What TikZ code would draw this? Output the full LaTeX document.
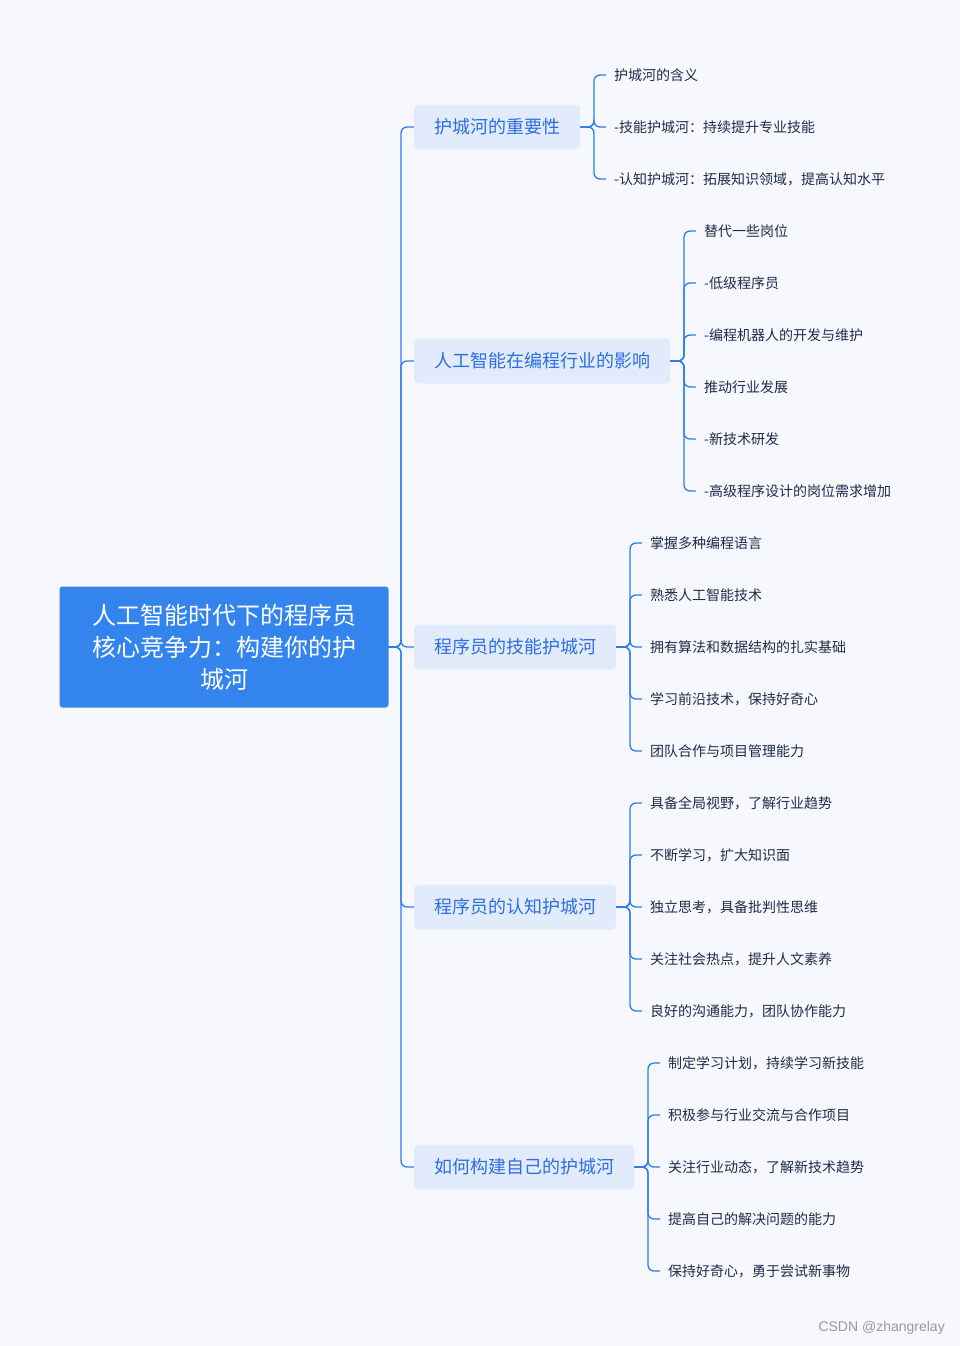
\documentclass[tikz,border=0pt]{standalone}
\usepackage{fontspec}
\newfontfamily\cjk{Noto Sans CJK SC}
\definecolor{bg}{HTML}{F7F8FD}
\definecolor{rootc}{HTML}{3484EE}
\definecolor{brc}{HTML}{E2EBFB}
\definecolor{brt}{HTML}{2C6FE0}
\definecolor{lnc}{HTML}{2F7CEB}
\definecolor{lft}{HTML}{1E2B4A}
\tikzset{
 rootbox/.style={fill=rootc,rounded corners=3,text=white,font=\cjk\fontsize{24}{32}\selectfont,align=center,minimum width=329,minimum height=121},
 brbox/.style={fill=brc,rounded corners=4,text=brt,font=\cjk\fontsize{18}{22}\selectfont,minimum height=45,inner xsep=20,anchor=west},
 leaf/.style={text=lft,font=\cjk\fontsize{14}{18}\selectfont,inner sep=0,anchor=west},
 conn/.style={draw=lnc,line width=1.3,rounded corners=6}
}
\begin{document}
\begin{tikzpicture}[x=1pt,y=-1pt]
\fill[bg] (0,0) rectangle (960,1346);
\node[rootbox] (root) at (224,647) {人工智能时代下的程序员\\核心竞争力：构建你的护\\城河};
\node[brbox] (b1) at (414,127) {护城河的重要性};
\node[brbox] (b2) at (414,361) {人工智能在编程行业的影响};
\node[brbox] (b3) at (414,647) {程序员的技能护城河};
\node[brbox] (b4) at (414,907) {程序员的认知护城河};
\node[brbox] (b5) at (414,1167) {如何构建自己的护城河};
\foreach \b in {b1,b2,b3,b4,b5}{
  \draw[conn] (root.east) -- (401,647) |- (\b.west);
}
\foreach \t [count=\i] in {护城河的含义,-技能护城河：持续提升专业技能,-认知护城河：拓展知识领域，提高认知水平}{
  \node[leaf] (l1\i) at (614,75+52*\i-52) {\t};
  \draw[conn] (b1.east) -- (594,127) |- ([xshift=-8]l1\i.west);
}
\foreach \t [count=\i] in {替代一些岗位,-低级程序员,-编程机器人的开发与维护,推动行业发展,-新技术研发,-高级程序设计的岗位需求增加}{
  \node[leaf] (l2\i) at (704,231+52*\i-52) {\t};
  \draw[conn] (b2.east) -- (684,361) |- ([xshift=-8]l2\i.west);
}
\foreach \t [count=\i] in {掌握多种编程语言,熟悉人工智能技术,拥有算法和数据结构的扎实基础,学习前沿技术，保持好奇心,团队合作与项目管理能力}{
  \node[leaf] (l3\i) at (650,543+52*\i-52) {\t};
  \draw[conn] (b3.east) -- (630,647) |- ([xshift=-8]l3\i.west);
}
\foreach \t [count=\i] in {具备全局视野，了解行业趋势,不断学习，扩大知识面,独立思考，具备批判性思维,关注社会热点，提升人文素养,良好的沟通能力，团队协作能力}{
  \node[leaf] (l4\i) at (650,803+52*\i-52) {\t};
  \draw[conn] (b4.east) -- (630,907) |- ([xshift=-8]l4\i.west);
}
\foreach \t [count=\i] in {制定学习计划，持续学习新技能,积极参与行业交流与合作项目,关注行业动态，了解新技术趋势,提高自己的解决问题的能力,保持好奇心，勇于尝试新事物}{
  \node[leaf] (l5\i) at (668,1063+52*\i-52) {\t};
  \draw[conn] (b5.east) -- (648,1167) |- ([xshift=-8]l5\i.west);
}
\node[anchor=east,inner sep=0,text=gray!80,font=\fontspec{Liberation Sans}\fontsize{14}{16}\selectfont] (wm) at (945,1328) {CSDN @zhangrelay};
\end{tikzpicture}
\end{document}
